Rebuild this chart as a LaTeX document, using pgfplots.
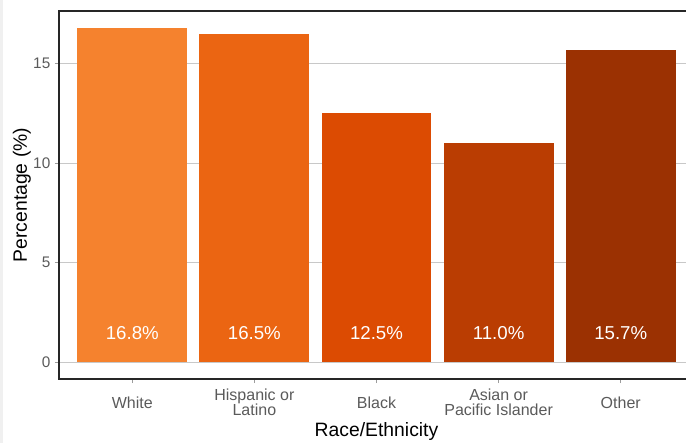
\documentclass[border=0pt]{standalone}
\usepackage{pgfplots}
\pgfplotsset{compat=1.18}
\usepackage{fontspec}
\setmainfont{Liberation Sans}
\definecolor{cW}{HTML}{F5822E}
\definecolor{cH}{HTML}{EB6512}
\definecolor{cB}{HTML}{DC4B02}
\definecolor{cA}{HTML}{BA3D02}
\definecolor{cO}{HTML}{9B3102}
\definecolor{tickgrey}{HTML}{5A5A5A}
\definecolor{gridgrey}{HTML}{C8C8C8}
\begin{document}
\begin{tikzpicture}
\useasboundingbox (-44.25pt,-48pt) rectangle (470.25pt,284.25pt);
\fill[black!6] (-44.25pt,-48pt) rectangle (-42pt,284.25pt);
\clip (-44.25pt,-48pt) rectangle (470.25pt,284.25pt);
\begin{axis}[
  scale only axis, width=476.25pt, height=276pt,
  xmin=0.4, xmax=5.6, ymin=-0.84, ymax=17.64,
  axis line style={black!85, line width=0.9pt},
  xtick={1,2,3,4,5},
  xticklabels={White,{Hispanic or\\Latino},Black,{Asian or\\Pacific Islander},Other},
  ytick={0,5,10,15},
  xtick pos=lower, ytick pos=left,
  tick align=outside,
  major tick length=3pt,
  major tick style={tickgrey!60, line width=0.75pt},
  ymajorgrids,
  grid style={gridgrey, line width=0.75pt},
  /pgf/number format/assume math mode=true,
  yticklabel style={font=\fontsize{11.5}{12}\selectfont, text=tickgrey},
  xticklabel style={font=\fontsize{12}{11.5}\selectfont, text=tickgrey, align=center, anchor=center, yshift=-14.5pt},
  xlabel={Race/Ethnicity},
  ylabel={Percentage (\%)},
  xlabel style={font=\fontsize{14.5}{15}\selectfont, at={(axis description cs:0.5,-0.144)}, anchor=center},
  ylabel style={font=\fontsize{14.5}{15}\selectfont, at={(axis description cs:-0.0583,0.5)}, anchor=center, rotate=0},
  clip=false,
]
\addplot[ybar, bar width=0.9, bar shift=0pt, fill=cW, draw=none] coordinates {(1,16.8)};
\addplot[ybar, bar width=0.9, bar shift=0pt, fill=cH, draw=none] coordinates {(2,16.5)};
\addplot[ybar, bar width=0.9, bar shift=0pt, fill=cB, draw=none] coordinates {(3,12.5)};
\addplot[ybar, bar width=0.9, bar shift=0pt, fill=cA, draw=none] coordinates {(4,11.0)};
\addplot[ybar, bar width=0.9, bar shift=0pt, fill=cO, draw=none] coordinates {(5,15.7)};
\addplot[draw=none, mark=none, point meta=explicit symbolic,
  nodes near coords,
  every node near coord/.append style={anchor=center, text=white, font=\fontsize{14}{14}\selectfont}]
  coordinates {(1,1.45) [16.8\%] (2,1.45) [16.5\%] (3,1.45) [12.5\%] (4,1.45) [11.0\%] (5,1.45) [15.7\%]};
\end{axis}
\end{tikzpicture}
\end{document}
